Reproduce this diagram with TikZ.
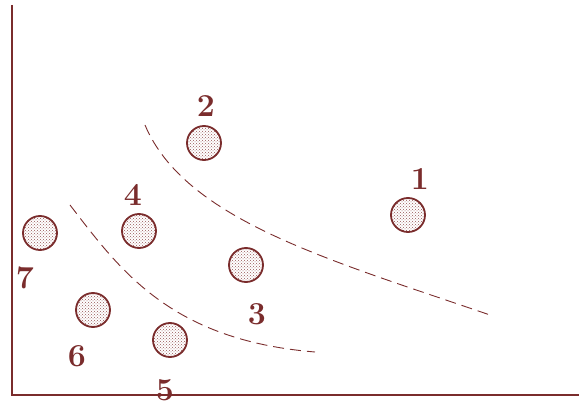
\documentclass[tikz,border=0pt]{standalone}
\usetikzlibrary{patterns}
\definecolor{maroon}{HTML}{7A2C2C}
\begin{document}
\begin{tikzpicture}[x=1pt,y=-1pt,
  pt/.style={circle,draw=maroon,line width=1.8pt,minimum size=34pt,inner sep=0pt,pattern=crosshatch dots,pattern color=maroon!80},
  lbl/.style={text=maroon,font=\fontsize{32}{32}\selectfont\bfseries,inner sep=0pt},
  sep/.style={draw=maroon,line width=0.9pt,dash pattern=on 11pt off 6pt},
  axis/.style={draw=maroon,line width=2pt}]
\useasboundingbox (0,0) rectangle (579,409);
\coordinate (top) at (12,5);
\coordinate (origin) at (12,395);
\coordinate (right) at (579,395);
\draw[axis] (top) -- (origin) -- (right);
\node[pt] (p1) at (408,215) {};
\node[pt] (p2) at (204,143) {};
\node[pt] (p3) at (246,265) {};
\node[pt] (p4) at (139,231) {};
\node[pt] (p5) at (170,340) {};
\node[pt] (p6) at (93,310) {};
\node[pt] (p7) at (40,233) {};
\node[lbl] (l1) at (420,179) {1};
\node[lbl] (l2) at (206,106) {2};
\node[lbl] (l3) at (257,314) {3};
\node[lbl] (l4) at (133,195) {4};
\node[lbl] (l5) at (165,390) {5};
\node[lbl] (l6) at (77,356) {6};
\node[lbl] (l7) at (25,278) {7};
\draw[sep] (145,125) .. controls (185,220) and (330,260) .. (490,315);
\draw[sep] (70,205) .. controls (120,270) and (170,340) .. (315,352);
\end{tikzpicture}
\end{document}
